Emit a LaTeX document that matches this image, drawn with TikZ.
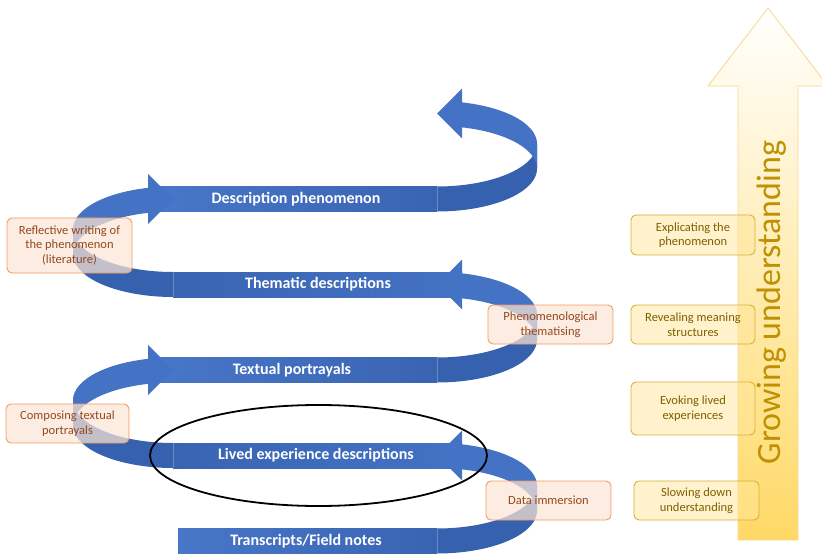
\documentclass[tikz,border=0pt]{standalone}
\usepackage{fontspec}
\setmainfont{Carlito}
\usetikzlibrary{shapes.geometric}
\definecolor{bandblue}{HTML}{4472C4}
\definecolor{bandlight}{HTML}{4876C8}
\definecolor{banddark}{HTML}{3964B2}
\definecolor{backblue}{HTML}{3561AE}
\definecolor{oborder}{HTML}{F19B60}
\definecolor{ofill}{HTML}{FBE5D6}
\definecolor{otext}{HTML}{94491F}
\definecolor{yborder}{HTML}{D8B03A}
\definecolor{yfill}{HTML}{FFE699}
\definecolor{ytext}{HTML}{7F6000}
\definecolor{agold}{HTML}{FFD966}
\definecolor{aborder}{HTML}{F5D888}
\definecolor{gtext}{HTML}{BF9000}

\newcommand\LeftTurn[2]{%
  \pgfmathsetmacro\tcy{(#1+#2)/2}%
  \pgfmathsetmacro\tb{(#1-#2)/2}%
  \fill[backblue] plot[domain=90:180,samples=40] ({173+100*cos(\x)},{\tcy+12.5+\tb*sin(\x)})
     -- plot[domain=180:90,samples=40] ({173+100*cos(\x)},{\tcy-12.5+\tb*sin(\x)}) -- cycle;
  \fill[bandblue] plot[domain=180:255.52,samples=40] ({173+100*cos(\x)},{\tcy+12.5+\tb*sin(\x)})
     -- (148,{#2+25}) -- (173,{#2}) -- (148,{#2-25})
     -- plot[domain=255.52:180,samples=40] ({173+100*cos(\x)},{\tcy-12.5+\tb*sin(\x)}) -- cycle;
}
\newcommand\RightTurn[2]{%
  \pgfmathsetmacro\tcy{(#1+#2)/2}%
  \pgfmathsetmacro\tb{(#1-#2)/2}%
  \fill[backblue] plot[domain=90:0,samples=40] ({437+100*cos(\x)},{\tcy+12.5+\tb*sin(\x)})
     -- plot[domain=0:90,samples=40] ({437+100*cos(\x)},{\tcy-12.5+\tb*sin(\x)}) -- cycle;
  \fill[bandblue] plot[domain=0:-75.52,samples=40] ({437+100*cos(\x)},{\tcy+12.5+\tb*sin(\x)})
     -- (462,{#2+25}) -- (437,{#2}) -- (462,{#2-25})
     -- plot[domain=-75.52:0,samples=40] ({437+100*cos(\x)},{\tcy-12.5+\tb*sin(\x)}) -- cycle;
}

\tikzset{
  bandtext/.style={text=white, font=\bfseries\fontsize{16}{18}\selectfont, inner sep=0pt},
  obox/.style={draw=oborder, line width=0.9pt, fill=ofill, fill opacity=0.72, text opacity=1,
    rounded corners=5pt, text=otext, align=center, inner sep=1pt,
    font=\fontsize{12.5}{14.5}\selectfont, minimum width=125pt, minimum height=39pt},
  ybox/.style={draw=yborder, line width=0.9pt, fill=yfill, fill opacity=0.5, text opacity=1,
    rounded corners=5pt, text=ytext, align=center, inner sep=1pt,
    font=\fontsize{12.5}{14.5}\selectfont, minimum width=124pt, minimum height=39pt},
}

\begin{document}
\begin{tikzpicture}[x=1pt,y=-1pt]
\useasboundingbox (0,0) rectangle (822,556);

% growing understanding arrow
\path[top color=white, bottom color=agold, draw=aborder, line width=0.8pt]
  (738,540) -- (738,86) -- (708,86) -- (768,8) -- (828,86) -- (798,86) -- (798,540) -- cycle;
\node[rotate=90, anchor=base, text=gtext, font=\fontsize{34}{40}\selectfont, inner sep=0pt]
  (grow) at (780,302.5) {Growing understanding};

% horizontal bands
\fill[left color=bandlight, right color=banddark] (178,528.5) rectangle (437,553.5);
\fill[left color=banddark, right color=bandblue] (173,443) rectangle (462,468);
\fill[left color=bandlight, right color=banddark] (160,357.5) rectangle (437,382.5);
\fill[left color=banddark, right color=bandblue] (173,272) rectangle (462,297);
\fill[left color=bandlight, right color=banddark] (160,186.5) rectangle (437,211.5);

% turns
\RightTurn{541}{455.5}
\LeftTurn{455.5}{370}
\RightTurn{370}{284.5}
\LeftTurn{284.5}{199}
\RightTurn{199}{113.5}

% seams
\foreach \yy in {455.5,284.5} \draw[white, opacity=0.25, line width=0.6pt] (173,{\yy-12.5}) -- (173,{\yy+12.5});
\foreach \yy in {541,370,199} \draw[white, opacity=0.25, line width=0.6pt] (437,{\yy-12.5}) -- (437,{\yy+12.5});

% band labels
\node[bandtext] (tfn) at (306,541) {Transcripts/Field notes};
\node[bandtext] (led) at (316,455.5) {Lived experience descriptions};
\node[bandtext] (tp) at (292,370) {Textual portrayals};
\node[bandtext] (td) at (318,284.5) {Thematic descriptions};
\node[bandtext] (dp) at (296,199) {Description phenomenon};

% orange boxes
\node[obox, minimum height=55pt] (refl) at (69.5,245.5) {Reflective writing of\\the phenomenon\\(literature)};
\node[obox, minimum width=123pt] (comp) at (67.5,423.5) {Composing textual\\portrayals};
\node[obox] (phen) at (550.5,324.5) {Phenomenological\\thematising};
\node[obox] (data) at (548.5,500.5) {Data immersion};

% yellow boxes
\node[ybox, minimum height=40pt] (expl) at (693,235) {Explicating the\\phenomenon};
\node[ybox] (reve) at (693,324.5) {Revealing meaning\\structures};
\node[ybox, minimum height=53pt] (evok) at (693,408.5) {Evoking lived\\experiences};
\node[ybox, minimum width=125pt] (slow) at (696.5,500.5) {Slowing down\\understanding};

% ellipse
\node[ellipse, draw=black, line width=1.8pt, minimum width=337pt, minimum height=101pt, inner sep=0pt] (ring) at (318.5,455.5) {};
\end{tikzpicture}
\end{document}
